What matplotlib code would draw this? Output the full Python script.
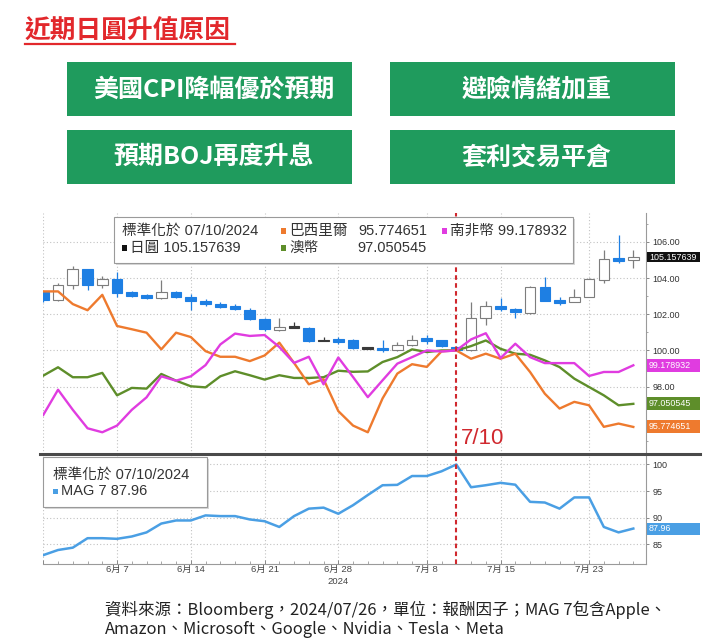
import matplotlib
matplotlib.use('Agg')
import matplotlib.pyplot as plt
import matplotlib.transforms as mtransforms
from matplotlib.patches import Rectangle
from matplotlib.lines import Line2D
from matplotlib.ticker import MultipleLocator, FormatStrFormatter
import numpy as np
import pandas as pd

# ---------------- data ----------------
dates = pd.bdate_range('2024-05-31', '2024-07-26')

jpy_open = [103.20, 102.80, 103.63, 104.47, 103.59, 103.94, 103.21, 103.00, 102.88, 103.20,
            102.97, 102.75, 102.52, 102.45, 102.26, 101.72, 101.14, 101.29, 101.23, 100.54,
            100.56, 100.55, 100.13, 100.15, 100.00, 100.28, 100.61, 100.55, 100.17, 100.00,
            101.80, 102.41, 102.30, 102.07, 103.49, 102.72, 102.70, 102.97, 103.90, 105.06,
            105.02]
jpy_high = [103.30, 103.72, 104.69, 104.50, 104.13, 104.32, 103.26, 103.10, 103.87, 103.26,
            103.10, 102.83, 102.65, 102.56, 102.32, 101.81, 101.81, 101.56, 101.29, 100.76,
            100.76, 100.64, 100.20, 100.55, 100.46, 100.83, 100.86, 100.60, 100.24, 102.70,
            102.73, 102.90, 102.36, 103.57, 104.04, 102.95, 103.42, 103.98, 105.56, 106.40,
            105.56]
jpy_low = [102.70, 102.75, 103.38, 103.35, 103.44, 102.97, 102.93, 102.84, 102.82, 102.88,
           102.22, 102.45, 102.33, 102.22, 101.70, 101.10, 101.10, 101.27, 100.49, 100.50,
           100.37, 100.06, 100.06, 99.90, 99.97, 100.25, 100.37, 100.18, 99.95, 99.98,
           101.38, 102.20, 101.80, 102.00, 102.72, 102.50, 102.66, 102.93, 103.70, 104.85,
           104.54]
jpy_close = [102.80, 103.60, 104.47, 103.63, 103.94, 103.16, 103.00, 102.96, 103.20, 102.97,
             102.75, 102.54, 102.48, 102.32, 101.76, 101.20, 101.29, 101.29, 100.54, 100.54,
             100.52, 100.13, 100.13, 100.00, 100.31, 100.59, 100.57, 100.22, 100.00, 101.78,
             102.48, 102.37, 102.15, 103.52, 102.75, 102.68, 102.97, 103.94, 105.04, 105.02,
             105.157639]

brl = [103.26, 103.26, 102.56, 102.22, 103.07, 101.35, 101.17, 100.98, 100.06, 100.98,
       100.74, 99.96, 99.65, 99.65, 99.41, 99.72, 100.43, 99.31, 98.13, 98.41,
       96.65, 95.85, 95.48, 97.35, 98.72, 99.24, 99.09, 99.95, 100.00, 99.54,
       99.82, 99.54, 99.82, 98.81, 97.61, 96.79, 97.16, 96.97, 95.78, 95.96,
       95.774651]
zar = [96.44, 97.83, 96.72, 95.70, 95.48, 95.85, 96.72, 97.41, 98.57, 98.33,
       98.57, 99.19, 100.33, 100.93, 100.80, 100.85, 100.19, 99.31, 99.65, 98.13,
       99.61, 98.53, 97.42, 98.35, 99.27, 99.63, 100.00, 99.94, 100.00, 100.61,
       100.95, 99.58, 100.37, 99.63, 99.30, 99.30, 99.30, 98.59, 98.81, 98.81,
       99.178932]
aud = [98.61, 99.07, 98.52, 98.52, 98.76, 97.52, 97.93, 97.89, 98.70, 98.33,
       98.02, 97.96, 98.57, 98.85, 98.63, 98.39, 98.63, 98.48, 98.48, 98.52,
       98.88, 98.82, 98.84, 99.36, 99.63, 100.06, 99.91, 100.00, 100.00, 100.24,
       100.55, 100.09, 99.82, 99.76, 99.45, 99.08, 98.44, 97.98, 97.52, 96.97,
       97.050545]
mag7 = [82.97, 83.93, 84.37, 86.15, 86.15, 86.03, 86.47, 87.24, 88.90, 89.48,
        89.48, 90.43, 90.30, 90.30, 89.67, 89.34, 88.26, 90.30, 91.70, 91.89,
        90.74, 92.35, 94.26, 96.10, 96.17, 97.83, 97.83, 98.72, 100.00, 95.72,
        96.10, 96.55, 96.20, 92.98, 92.85, 91.70, 93.81, 93.81, 88.26, 87.24,
        87.96]

tick_dates = ['2024-06-07', '2024-06-14', '2024-06-21', '2024-06-28',
              '2024-07-08', '2024-07-15', '2024-07-23']
tick_labels = ['6月 7', '6月 14', '6月 21', '6月 28', '7月 8', '7月 15', '7月 23']
ref_date = '2024-07-10'
top_yticks = [98, 100, 102, 104, 106]
bot_yticks = [85, 90, 95, 100]

title = '近期日圓升值原因'
reasons = ['美國CPI降幅優於預期', '避險情緒加重', '預期BOJ再度升息', '套利交易平倉']
source1 = '資料來源：Bloomberg，2024/07/26，單位：報酬因子；MAG 7包含Apple、'
source2 = 'Amazon、Microsoft、Google、Nvidia、Tesla、Meta'

# ---------------- style ----------------
W, H = 725, 641
fig = plt.figure(figsize=(W / 100, H / 100), dpi=100)
fig.patch.set_facecolor('white')


def fx(px):
    return px / W


def fy(py):
    return 1 - py / H


CJK = ['Noto Sans CJK TC', 'DejaVu Sans']
LAT = ['Liberation Sans', 'Noto Sans CJK TC', 'DejaVu Sans']
RED = '#E2282C'
GREEN_BOX = '#1F9B5D'
BLUE = '#1E7FE3'
C_BRL = '#EE7A2E'
C_ZAR = '#E03CE0'
C_AUD = '#5E8E2A'
C_MAG = '#4A9FE4'
C_REF = '#D0282E'

# ---------------- header ----------------
fig.text(fx(25), fy(31), title, fontsize=18.5, fontweight='bold', color=RED,
         family=CJK, ha='left', va='center')
fig.add_artist(Line2D([fx(25), fx(235)], [fy(44), fy(44)], color=RED, lw=1.6))

box_pos = [(67, 62), (390, 62), (67, 130), (390, 130)]
box_w, box_h = 285, 54
for (bx, by), txt in zip(box_pos, reasons):
    fig.add_artist(Rectangle((fx(bx), fy(by + box_h)), box_w / W, box_h / H,
                             transform=fig.transFigure, fc=GREEN_BOX, ec='none'))
    fig.text(fx(bx + box_w / 2 + 4), fy(by + box_h / 2 + 1), txt, fontsize=18,
             fontweight='bold', color='white', family=CJK, ha='center', va='center')

# ---------------- axes ----------------
L, R = 43, 646
ax1 = fig.add_axes([fx(L), fy(454), (R - L) / W, (454 - 213) / H])
ax2 = fig.add_axes([fx(L), fy(564), (R - L) / W, (564 - 455) / H])

x = np.arange(len(dates))
pos = {d: i for i, d in enumerate(dates.strftime('%Y-%m-%d'))}
tick_idx = [pos[d] for d in tick_dates]
grid_idx = [0] + tick_idx
ref_idx = pos[ref_date]

for ax in (ax1, ax2):
    ax.set_xlim(-0.02, 40.86)
    for s in ('left', 'top', 'bottom'):
        ax.spines[s].set_visible(False)
    ax.spines['right'].set_color('#9a9a9a')
    ax.spines['right'].set_linewidth(0.8)
    ax.yaxis.tick_right()
    ax.tick_params(axis='y', which='major', length=2.5, width=0.7, color='#888',
                   labelsize=6.5, labelcolor='#333', pad=2)
    ax.tick_params(axis='y', which='minor', length=1.5, width=0.6, color='#999')
    ax.set_xticks(grid_idx)
    ax.grid(True, which='major', ls=(0, (1, 2)), color='#c2c2c2', lw=0.8)
    ax.set_axisbelow(True)

ax1.set_ylim(94.28, 107.59)
ax1.set_yticks(top_yticks)
ax1.yaxis.set_major_formatter(FormatStrFormatter('%.2f'))
ax1.yaxis.set_minor_locator(MultipleLocator(1))
ax1.tick_params(axis='x', length=0, labelbottom=False)

ax2.set_ylim(81.3, 101.78)
ax2.set_yticks(bot_yticks)
ax2.yaxis.set_major_formatter(FormatStrFormatter('%d'))
ax2.spines['bottom'].set_visible(True)
ax2.spines['bottom'].set_color('#9a9a9a')
ax2.spines['bottom'].set_linewidth(0.8)
ax2.set_xticklabels([''] + tick_labels, fontsize=6.8, color='#444', family=LAT)
ax2.xaxis.set_minor_locator(MultipleLocator(1))
ax2.tick_params(axis='x', which='major', direction='in', length=3, width=0.7,
                color='#888', pad=1)
ax2.tick_params(axis='x', which='minor', direction='in', length=2, width=0.6,
                color='#999')
for ax in (ax1, ax2):
    for lab in ax.get_yticklabels():
        lab.set_family(LAT)

blend2 = mtransforms.blended_transform_factory(ax2.transData, fig.transFigure)
ax2.text(pos['2024-06-28'], fy(581), '2024', transform=blend2, fontsize=6.8,
         color='#444', family=LAT, ha='center', va='center')

# ---------------- candlesticks ----------------
o = np.array(jpy_open)
hi = np.array(jpy_high)
lo = np.array(jpy_low)
c = np.array(jpy_close)
for i in x:
    if c[i] > o[i]:
        fc, ec, hmin = 'white', '#7d7d7d', 0.08
    elif c[i] < o[i]:
        fc, ec, hmin = BLUE, BLUE, 0.15
    else:
        fc, ec, hmin = '#3a3a3a', '#3a3a3a', 0.08
    ax1.vlines(i, lo[i], hi[i], color=ec, lw=0.9, zorder=2)
    h = max(abs(c[i] - o[i]), hmin)
    mid = (c[i] + o[i]) / 2
    ax1.bar(i, h, bottom=mid - h / 2, width=0.72, color=fc, edgecolor=ec,
            linewidth=0.8, zorder=2.1)

# ---------------- lines ----------------
ax1.plot(x, aud, color=C_AUD, lw=1.7, zorder=3)
ax1.plot(x, brl, color=C_BRL, lw=1.7, zorder=3)
ax1.plot(x, zar, color=C_ZAR, lw=1.7, zorder=3)
ax2.plot(x, mag7, color=C_MAG, lw=1.8, zorder=3)

for ax in (ax1, ax2):
    ax.axvline(ref_idx, color=C_REF, ls=(0, (2.2, 1.6)), lw=1.5, zorder=4)

ax1.annotate('7/10', xy=(ref_idx, 0.065), xycoords=('data', 'axes fraction'),
             xytext=(3.5, 0), textcoords='offset points', ha='left', va='center',
             fontsize=16, color=C_REF, family=LAT, zorder=5)


# ---------------- right-hand value tags ----------------
def tag(ax, val, text, fc, hpx, tc='white'):
    y0, y1 = ax.get_ylim()
    ax_h = ax.get_position().height * H
    hd = hpx * (y1 - y0) / ax_h
    tr = mtransforms.blended_transform_factory(fig.transFigure, ax.transData)
    ax.add_patch(Rectangle((fx(647), val - hd / 2), 53 / W, hd, transform=tr,
                           fc=fc, ec='none', clip_on=False, zorder=6))
    ax.text(fx(649), val, text, transform=tr, fontsize=6.4, color=tc, family=LAT,
            ha='left', va='center', clip_on=False, zorder=7)


tag(ax1, jpy_close[-1], f'{jpy_close[-1]:.6f}', '#111111', 10)
tag(ax1, zar[-1], f'{zar[-1]:.6f}', C_ZAR, 13)
tag(ax1, aud[-1], f'{aud[-1]:.6f}', C_AUD, 13)
tag(ax1, brl[-1], f'{brl[-1]:.6f}', C_BRL, 13)
tag(ax2, mag7[-1], f'{mag7[-1]:.2f}', C_MAG, 12)

# ---------------- separator ----------------
fig.add_artist(Line2D([fx(40), fx(700)], [fy(454), fy(454)], color='#4a4a4a', lw=2.2,
                      zorder=8))


# ---------------- legends ----------------
def legend_box(x0, y0, x1, y1):
    fig.add_artist(Rectangle((fx(x0 + 2), fy(y1 + 2)), (x1 - x0) / W, (y1 - y0) / H,
                             transform=fig.transFigure, fc='#d8d8d8', ec='none', zorder=9))
    fig.add_artist(Rectangle((fx(x0), fy(y1)), (x1 - x0) / W, (y1 - y0) / H,
                             transform=fig.transFigure, fc='white', ec='#9a9a9a',
                             lw=0.8, zorder=10))


def square(px, py, color):
    fig.add_artist(Rectangle((fx(px), fy(py + 2.5)), 5 / W, 5 / H,
                             transform=fig.transFigure, fc=color, ec='none', zorder=11))


def ltext(px, py, s, ha='left'):
    fig.text(fx(px), fy(py), s, fontsize=10.5, color='#333', family=LAT,
             ha=ha, va='center', zorder=12)


legend_box(114, 217, 573, 263)
ltext(122, 231, '標準化於 07/10/2024')
square(122, 248, '#111111')
ltext(130, 248, f'日圓 {jpy_close[-1]:.6f}')
square(281, 231, C_BRL)
ltext(289, 231, '巴西里爾')
ltext(427, 231, f'{brl[-1]:.6f}', ha='right')
square(281, 248, C_AUD)
ltext(289, 248, '澳幣')
ltext(427, 248, f'{aud[-1]:.6f}', ha='right')
square(442, 231, C_ZAR)
ltext(450, 231, f'南非幣 {zar[-1]:.6f}')

legend_box(43, 457, 207, 507)
ltext(53, 475, '標準化於 07/10/2024')
square(53, 491, C_MAG)
ltext(61, 491, f'MAG 7 {mag7[-1]:.2f}')

# ---------------- source ----------------
fig.text(fx(105), fy(610), source1, fontsize=11.9, color='#222', family=CJK,
         ha='left', va='center')
fig.text(fx(105), fy(629), source2, fontsize=11.9, color='#222', family=CJK,
         ha='left', va='center')

fig.savefig('out.png', dpi=100)
